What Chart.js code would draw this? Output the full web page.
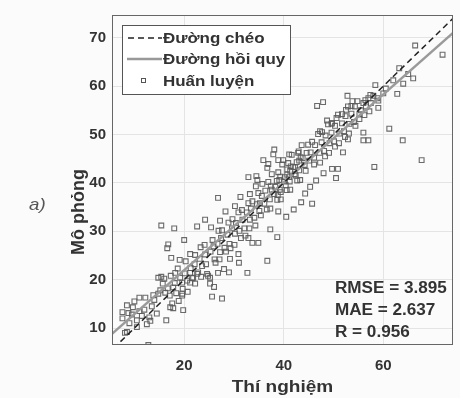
<!DOCTYPE html>
<html><head><meta charset="utf-8">
<script src="https://cdn.jsdelivr.net/npm/chart.js@4.4.0/dist/chart.umd.min.js"></script>
<style>html,body{margin:0;padding:0;background:#fbfbfb;}#wrap{width:460px;height:398px;position:relative;}</style>
</head><body><div id="wrap"><canvas id="c"></canvas></div>
<script>
// ---- data ----
const xTickValues = [20, 40, 60];
const yTickValues = [10, 20, 30, 40, 50, 60, 70];
const xRange = [5.5, 74];
const yRange = [6.5, 74.7];
const regSlope = 0.908;
const regIntercept = 3.8;
const legendLabels = ["Đường chéo", "Đường hồi quy", "Huấn luyện"];
const statsLabels = ["RMSE = 3.895", "MAE = 2.637", "R = 0.956"];
const xAxisTitle = "Thí nghiệm";
const yAxisTitle = "Mô phỏng";
const panelLabel = "a)";

const trainX = [
7.6,7.6,8.5,9.7,11,12.2,10.5,10.5,8.5,8.1,12.8,9,11.5,12,13,13.5,14,12.5,14.5,11,9.5,13.8,14.8,15.2,14.8,15.4,16,10,8.8,13.2,
17.6,17.8,19.8,16.4,17.2,19.6,19.6,19.6,21.2,22.2,21.8,21.2,22.6,25.2,25.2,25.6,27.6,15.4,18,22.6,24.2,20,16.8,16.6,17.4,18.2,24.8,26.8,
16.2,16.7,17.1,17.8,18.1,18.4,19.2,19.7,20.1,20.6,21.3,21.6,22.1,22.8,23.1,23.6,24.2,24.4,20.3,18.7,22.2,23.3,24.1,19.1,21.2,17.3,15.7,18.9,20.7,23.4,24.6,
25.3,25.9,26.1,26.7,27.2,27.4,28.1,28.7,29.1,29.6,30.2,30.4,31.1,31.7,32.1,32.6,33.2,33.4,34.1,34.6,35.1,25.7,26.9,27.6,28.9,29.7,30.9,31.6,32.9,33.7,34.9,
26.3,27.1,28.4,29.3,30.1,31.4,32.3,33.1,34.3,25.4,27.2,28.3,30.2,31.3,33.2,34.4,
26.8,32.7,30.9,29.2,33.7,34.9,32.9,28,26,29,31,
35.2,35.6,36.1,36.3,37.2,37.4,38.1,38.6,39.2,39.3,40.1,40.7,41.1,41.4,42.2,42.6,43.1,43.4,44.2,44.6,45.1,
35.7,36.9,37.6,38.9,39.7,40.9,41.6,42.9,43.6,44.9,
35.4,36.6,37.3,38.7,39.4,40.6,41.3,42.7,43.3,44.4,
38.3,39.1,40.4,41.3,42.4,43.1,40.2,41.2,42.3,39.4,37.6,38.8,40.7,41.9,43.8,
38.1,37.9,35.9,36.9,38.9,39.9,41.1,43,36.7,32.9,34.5,34.7,
38.9,42,38.7,37.3,36.7,44.3,45.3,45.7,40.5,43.5,
45.4,46.1,46.3,47.2,47.6,48.1,48.4,49.2,49.6,50.1,50.3,51.2,51.7,52.1,52.4,53.2,53.6,54.1,54.3,55.2,
45.7,46.9,47.7,48.9,49.6,50.9,51.7,52.9,53.6,
46.1,47.3,48.3,49.1,50.3,51.1,52.3,53.1,54.4,
46.7,47.9,48.7,49.7,52.8,53.8,54.8,47.3,50.6,52.5,
52.9,51.9,50.9,49.7,50.5,46.5,48,
55.5,56,56.5,57,57.5,58,56.4,57.4,58.4,55.2,56.2,57.2,59,59,61.2,56,57,56,58.2,62,62.8,60,60.5,58.8,
63.2,66,66.4,71.9,63.9,67.7,64,65
];
const trainY = [
13.3,12,14.7,14.3,16.3,16.3,11.6,10.2,9.2,9,6.5,11,12.5,13.8,12.2,14.5,15.8,10.8,13,13.5,12.8,16.8,17.1,17.8,20.4,20.6,20.2,15.5,13.1,11.5,
15.1,14.1,13.7,11.6,14.3,17.1,16.7,19.4,19.4,19.2,20.4,21.4,21.2,19.2,20.4,16.5,16.1,31.2,30.6,31,32.4,28.2,27.3,26.5,24.5,21.4,20.8,21.4,
17.3,18.2,16.7,18.4,19.3,17.2,20.4,18.1,21.3,19.8,22.4,20.3,23.2,21.5,24.3,22.8,25.2,23.2,23.8,22.3,25.1,26.7,27.2,24.1,25.3,20.8,19.2,15.6,17.5,20.6,21.2,
25.8,26.9,24.2,27.4,25.7,28.6,26.6,29.3,27.4,30.6,29.5,31.7,30.1,32.4,30.6,33.9,32.4,34.7,32.8,35.6,34.2,28.2,30.1,30.2,31.8,32.5,33.9,34.4,35.8,36.2,37.9,
23.5,24.2,25.8,26.5,27.2,28.6,29.1,30.6,31.2,30.8,32.2,34.1,35.2,37.1,37.7,39.3,
36.9,21.4,25.3,24.3,27.6,27.6,28.6,22.2,18.5,21.5,23.5,
35.8,37.3,35.7,38.4,36.6,39.3,37.7,40.4,38.6,41.3,40.3,41.7,41.2,43.4,41.8,44.3,42.6,45.3,43.7,46.2,44.6,
39.8,40.2,41.8,42.2,43.8,44.1,45.8,46.2,47.8,47.9,
33.3,34.5,34.7,36.5,36.6,38.5,38.6,40.5,40.6,42.5,
39.2,40.6,39.5,42.5,41.5,44.6,41.2,40.3,43.2,38.1,38.6,37.5,42.8,43.3,45.1,
46.9,45.9,44.7,43.9,44.7,44.7,45.9,46.5,43.1,41.2,41.4,40.6,
34.1,34.5,28.8,30.4,23.9,37.8,39.2,35.7,33,36,
46.3,45.2,47.8,46.2,48.4,46.6,49.8,48.2,50.4,48.6,51.8,50.2,52.3,50.7,53.8,52.2,54.3,52.6,55.8,54.2,
48.5,50.1,50.5,52.1,52.2,54.1,54.2,55.8,55.9,
43.8,44.2,45.5,46.2,47.5,48.2,49.5,50.2,51.8,
55.9,56.7,52.9,52.4,58,56.9,56.9,50.7,53.4,55.1,
49,46.3,42.9,42.9,41,40.5,42,
55,56.5,55.8,57.5,56.5,58,57.1,58.2,60.2,53.2,54,54.8,57,55.5,51.2,48.8,48.8,50.4,43.3,61.2,58.4,58.5,59.5,57.5,
63.7,61.6,68.4,66.5,48.8,44.7,60.5,62.5
];

const trainPts = trainX.map((x, i) => ({x: x, y: trainY[i]}));
const diagPts = [{x: 0, y: 0}, {x: 80, y: 80}];
const regPts = [{x: xRange[0], y: regSlope * xRange[0] + regIntercept}, {x: xRange[1], y: regSlope * xRange[1] + regIntercept}];

const FONT = "'Liberation Sans', Arial, sans-serif";
const TXT = '#333';

function drawStretched(ctx, text, x, y, sx, align) {
  ctx.save();
  ctx.translate(x, y);
  ctx.scale(sx, 1);
  ctx.textAlign = align || 'left';
  ctx.fillText(text, 0, 0);
  ctx.restore();
}

const decor = {
  id: 'decor',
  afterDatasetsDraw(chart) {
    const ctx = chart.ctx, a = chart.chartArea;
    ctx.save();
    ctx.strokeStyle = '#666'; ctx.lineWidth = 1;
    ctx.strokeRect(a.left + 0.5, a.top + 0.5, a.right - a.left - 1, a.bottom - a.top - 1);
    const lx = a.left + 10, ly = a.top + 10, lw = 168, lh = 69;
    ctx.fillStyle = '#ffffff';
    ctx.fillRect(lx, ly, lw, lh);
    ctx.strokeStyle = '#555';
    ctx.strokeRect(lx + 0.5, ly + 0.5, lw, lh);
    const rows = [ly + 13, ly + 34, ly + 56];
    ctx.strokeStyle = '#222'; ctx.lineWidth = 1.5; ctx.setLineDash([6, 4]);
    ctx.beginPath(); ctx.moveTo(lx + 6, rows[0]); ctx.lineTo(lx + 40, rows[0]); ctx.stroke();
    ctx.setLineDash([]);
    ctx.strokeStyle = '#999'; ctx.lineWidth = 2.5;
    ctx.beginPath(); ctx.moveTo(lx + 5, rows[1]); ctx.lineTo(lx + 40, rows[1]); ctx.stroke();
    ctx.strokeStyle = '#555'; ctx.lineWidth = 1;
    ctx.strokeRect(lx + 19.5, rows[2] - 2.5, 4, 4);
    ctx.fillStyle = TXT;
    ctx.font = 'bold 15px ' + FONT;
    ctx.textBaseline = 'middle';
    legendLabels.forEach((t, i) => drawStretched(ctx, t, lx + 41, rows[i] + 1, 1.13));
    ctx.font = 'bold 16px ' + FONT;
    const sy = [289, 311, 333];
    statsLabels.forEach((t, i) => drawStretched(ctx, t, 335, sy[i], 1.07));
    ctx.restore();
  },
  afterDraw(chart) {
    const ctx = chart.ctx, a = chart.chartArea;
    ctx.save();
    ctx.fillStyle = TXT;
    ctx.textBaseline = 'middle';
    ctx.font = 'bold 17px ' + FONT;
    drawStretched(ctx, xAxisTitle, (a.left + a.right) / 2, 387, 1.12, 'center');
    ctx.save();
    ctx.translate(79, 212);
    ctx.rotate(-Math.PI / 2);
    ctx.textAlign = 'center';
    ctx.font = 'bold 18px ' + FONT;
    ctx.fillText(yAxisTitle, 0, 0);
    ctx.restore();
    ctx.fillStyle = '#555';
    ctx.font = 'italic 17px ' + FONT;
    drawStretched(ctx, panelLabel, 29, 205, 1.1, 'left');
    ctx.restore();
  }
};

new Chart(document.getElementById('c'), {
  type: 'scatter',
  data: {
    datasets: [
      {label: legendLabels[2], data: trainPts, showLine: false, pointStyle: 'rect', pointRadius: 3.4,
       pointBorderWidth: 1.1, pointBorderColor: 'rgba(90,90,90,0.9)', pointBackgroundColor: 'rgba(0,0,0,0)', order: 3},
      {label: legendLabels[1], data: regPts, showLine: true, pointRadius: 0, borderColor: '#9a9a9a', borderWidth: 2.5, order: 2},
      {label: legendLabels[0], data: diagPts, showLine: true, pointRadius: 0, borderColor: '#222', borderWidth: 1.5, borderDash: [6, 4], order: 1}
    ]
  },
  options: {
    responsive: true, maintainAspectRatio: false, animation: false,
    layout: {padding: {top: 11, right: 7, left: 0, bottom: 0}},
    plugins: {legend: {display: false}, tooltip: {enabled: false}},
    scales: {
      x: {
        type: 'linear', min: xRange[0], max: xRange[1],
        afterBuildTicks: s => { s.ticks = xTickValues.map(v => ({value: v})); },
        afterFit: s => { s.height = 53; },
        grid: {color: '#e4e4e4', drawTicks: false},
        border: {display: false},
        ticks: {padding: 12, color: TXT, font: {family: FONT, size: 15, weight: 'bold'}}
      },
      y: {
        type: 'linear', min: yRange[0], max: yRange[1],
        afterBuildTicks: s => { s.ticks = yTickValues.map(v => ({value: v})); },
        afterFit: s => { s.width = 112; },
        grid: {color: '#e4e4e4', drawTicks: false},
        border: {display: false},
        ticks: {padding: 6, color: TXT, font: {family: FONT, size: 15, weight: 'bold'}}
      }
    }
  },
  plugins: [decor]
});
</script></body></html>
